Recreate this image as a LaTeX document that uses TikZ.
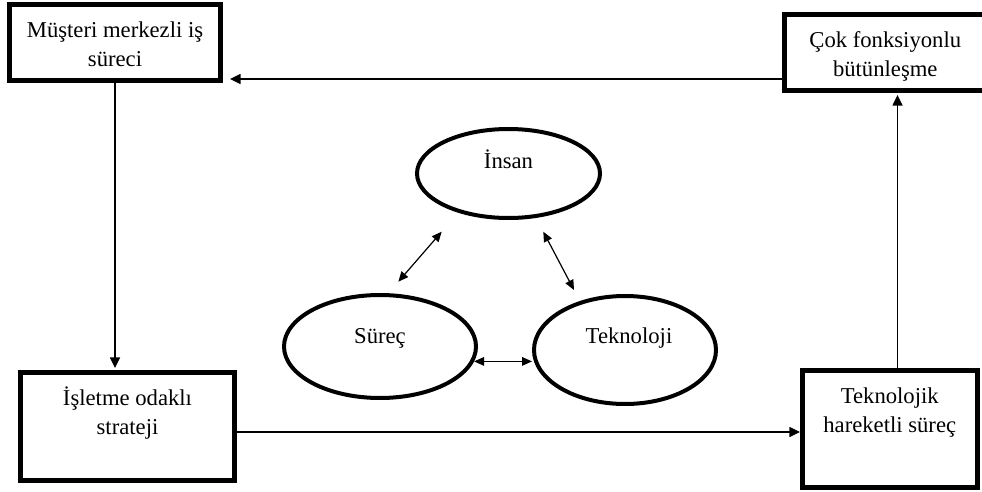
\documentclass[tikz,border=0pt]{standalone}
\usepackage{fontspec}
\setmainfont{Liberation Serif}
\usetikzlibrary{arrows.meta,shapes.geometric}

% text block inside a stage box: fixed size, lines hung from the top
\newcommand\stagetext[3]{\parbox[c][#2][t]{#1}{\centering\rule{0pt}{25pt}#3}}

\begin{document}
\begin{tikzpicture}[x=0.75pt,y=-0.75pt,
  every node/.style={font=\fontsize{17pt}{21.5pt}\selectfont},
  stagebox/.style={draw, rectangle, line width=3.75pt, inner sep=0pt},
  core/.style={draw, ellipse, line width=3pt, text height=10pt},
  flow/.style={line width=1.1pt, -{Triangle[length=8pt,width=7.5pt]}},
  link/.style={line width=0.9pt,
    {Triangle[length=7.5pt,width=6.5pt]}-{Triangle[length=7.5pt,width=6.5pt]}}
]
\useasboundingbox (0,0) rectangle (982,492);

% outer cycle of stages
\node[stagebox] (b1) at (115,42.5)
  {\stagetext{158.25pt}{57pt}{Müşteri merkezli iş\\süreci}};
\node[stagebox] (b2) at (885.25,52.5)
  {\stagetext{151.1pt}{57pt}{Çok fonksiyonlu\\bütünleşme}};
\node[stagebox] (b3) at (127.5,426.5)
  {\stagetext{160.5pt}{81pt}{İşletme odaklı\\strateji}};
\node[stagebox] (b4) at (889.75,429)
  {\stagetext{130.9pt}{87.75pt}{Teknolojik\\hareketli süreç}};

% central triad
\node[core, minimum width=137.25pt, minimum height=66.75pt, text depth=18.25pt]
  (insan) at (508.5,173.5) {İnsan};
\node[core, minimum width=144pt, minimum height=77.25pt, text depth=15.25pt]
  (surec) at (380,346.5) {Süreç};
\node[core, minimum width=136.5pt, minimum height=81pt, text depth=20.5pt]
  (tekno) at (625,350) {\hspace*{6pt}Teknoloji};

% guide lines for the connectors
\coordinate (yTop) at (0,79);
\coordinate (yBot) at (0,432);
\coordinate (xRight) at (897.5,0);
\coordinate (si-s) at (398.3,281.7);
\coordinate (si-i) at (441.7,231.7);
\coordinate (it-i) at (543.3,231.7);
\coordinate (it-t) at (574,290);

% cycle arrows
\draw[flow, shorten >=5.25pt] (b2.west |- yTop) -- (b1.east |- yTop);
\draw[flow, shorten >=1.5pt] (b1.south) -- (b1.south |- b3.north);
\draw[flow] (b3.east |- yBot) -- (b4.west |- yBot);
\draw[flow, shorten >=1.5pt] (b4.north -| xRight) -- (b2.south -| xRight);

% triad links
\draw[link] (si-s) -- (si-i);
\draw[link] (it-i) -- (it-t);
\draw[link] (surec.351) -- (surec.351 -| tekno.west);
\end{tikzpicture}
\end{document}
